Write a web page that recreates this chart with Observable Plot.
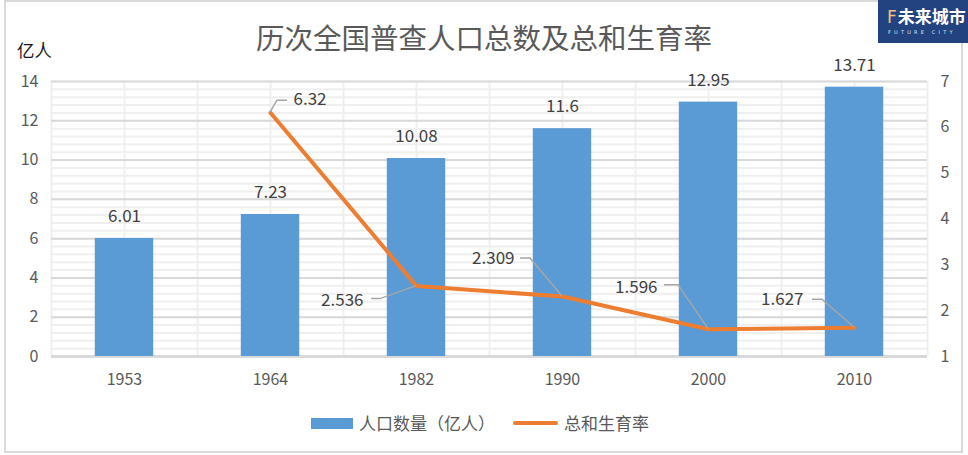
<!DOCTYPE html>
<html><head><meta charset="utf-8">
<script src="https://cdn.jsdelivr.net/npm/d3@7"></script>
<script src="https://cdn.jsdelivr.net/npm/@observablehq/plot@0.6"></script>
<style>
body{margin:0;background:#fff;font-family:"Noto Sans CJK SC","Noto Sans",sans-serif;}
#wrap{position:relative;width:968px;height:455px;overflow:hidden;background:#fff;}
#frame{position:absolute;left:4px;top:0px;width:959px;height:453px;border:2px solid #d9d9d9;box-sizing:border-box;}
#chart{position:absolute;left:0;top:0;}
#title{position:absolute;left:0;width:968px;top:18px;text-align:center;font-size:28.5px;color:#595959;line-height:38px;}
#unit{position:absolute;left:17px;top:37px;font-size:17.5px;color:#1a1a1a;line-height:26px;}
#logo{position:absolute;left:878px;top:0;width:90px;height:43px;background:#22437f;color:#fff;}
#logo .l1{position:absolute;left:9px;top:6px;font-size:17px;font-weight:bold;line-height:20px;letter-spacing:0px;}
#logo .l1 .f{color:#f3c27a;font-family:"DejaVu Sans";font-weight:normal;margin-right:1px;}
#logo .l2{position:absolute;left:10px;top:29px;font-size:5px;letter-spacing:3.2px;line-height:6px;color:#dfe6f2;font-family:"DejaVu Sans";}
#legend{position:absolute;top:411px;left:0;width:968px;height:24px;font-size:17px;color:#595959;}
.sw{position:absolute;}
.lt{position:absolute;top:0;line-height:24px;}
</style></head><body>
<div id="wrap">
  <div id="chart"></div>
  <div id="frame"></div>
  <div id="title">历次全国普查人口总数及总和生育率</div>
  <div id="unit">亿人</div>
  <div id="logo"><div class="l1"><span class="f">F</span>未来城市</div><div class="l2">FUTURE CITY</div></div>
  <div id="legend">
    <div class="sw" style="left:311px;top:7px;width:42px;height:11px;background:#5b9bd5"></div>
    <div class="lt" style="left:359px">人口数量（亿人）</div>
    <div class="sw" style="left:513px;top:10px;width:45px;height:4px;border-radius:2px;background:#ed7d31"></div>
    <div class="lt" style="left:564px">总和生育率</div>
  </div>
</div>
<script>
// ---- data ----
const years = ["1953", "1964", "1982", "1990", "2000", "2010"];
const population = [6.01, 7.23, 10.08, 11.6, 12.95, 13.71];
const populationLabels = ["6.01", "7.23", "10.08", "11.6", "12.95", "13.71"];
const tfrYears = ["1964", "1982", "1990", "2000", "2010"];
const tfr = [6.32, 2.536, 2.309, 1.596, 1.627];
const tfrLabels = ["6.32", "2.536", "2.309", "1.596", "1.627"];
const leftTicks = [0, 2, 4, 6, 8, 10, 12, 14];
const rightTicks = [1, 2, 3, 4, 5, 6, 7];

// ---- label styling (pixel offsets for the data labels and leader lines) ----
const tfrLabelStyle = [
  {dx: 23, dy: -13, anchor: "start", leader: [[0,0],[7,-12],[17,-12]]},
  {dx: -53, dy: 14, anchor: "end", leader: [[-45,13],[-36,13],[0,0]]},
  {dx: -48, dy: -38, anchor: "end", leader: [[-42,-38],[-32,-38],[0,0]]},
  {dx: -51, dy: -42, anchor: "end", leader: [[-44,-44],[-30,-44],[0,0]]},
  {dx: -51, dy: -28, anchor: "end", leader: [[-42,-28],[-32,-28],[0,0]]}
];

const popData = years.map((y, i) => ({i, year: y, v: population[i], label: populationLabels[i]}));
const tfrData = tfrYears.map((y, k) => ({i: years.indexOf(y), year: y, v: tfr[k], label: tfrLabels[k]}));
const yMax = 14;
const toLeft = r => (r - 1) * yMax / 6;   // right axis (1..7) mapped onto left axis (0..14)
const fromLeft = v => v * 6 / yMax + 1;

const minorY = d3.range(0, yMax + 0.001, 0.4);
const gridX = d3.range(-0.5, years.length - 0.5 + 0.001, 0.5);
const font = '"Noto Sans CJK SC","Noto Sans",sans-serif';

const plot = Plot.plot({
  width: 968,
  height: 455,
  marginLeft: 51,
  marginRight: 41,
  marginTop: 81,
  marginBottom: 99,
  style: {fontFamily: font, background: "transparent", overflow: "visible"},
  x: {type: "linear", domain: [-0.5, years.length - 0.5]},
  y: {domain: [0, yMax]},
  marks: [
    Plot.ruleY(minorY, {stroke: "#efefef", strokeWidth: 2}),
    Plot.ruleX(gridX, {stroke: "#efefef", strokeWidth: 2}),
    Plot.ruleY(leftTicks.filter(d => d > 0), {stroke: "#d9d9d9", strokeWidth: 2}),
    Plot.ruleY([0], {stroke: "#d9d9d9", strokeWidth: 3}),
    Plot.rectY(popData, {x1: d => d.i - 0.2, x2: d => d.i + 0.2, y: "v", fill: "#5b9bd5"}),
    Plot.text(popData, {x: "i", y: "v", text: "label", dy: -22, fontSize: 17, fill: "#404040"}),
    Plot.line(tfrData, {x: "i", y: d => toLeft(d.v), stroke: "#ed7d31", strokeWidth: 4, strokeLinejoin: "round"}),
    ...tfrData.map((d, k) => Plot.text([d], {
      x: "i", y: dd => toLeft(dd.v), text: "label",
      dx: tfrLabelStyle[k].dx, dy: tfrLabelStyle[k].dy,
      textAnchor: tfrLabelStyle[k].anchor, fontSize: 17, fill: "#404040"
    })),
    Plot.axisY(leftTicks, {anchor: "left", tickSize: 0, tickPadding: 13, fontSize: 16, color: "#595959", label: null}),
    Plot.axisY(rightTicks.map(toLeft), {anchor: "right", tickSize: 0, tickPadding: 13, fontSize: 16, color: "#595959", label: null, tickFormat: d => String(Math.round(fromLeft(d)))}),
    Plot.axisX(d3.range(years.length), {anchor: "bottom", tickSize: 0, tickPadding: 17, fontSize: 16, color: "#595959", label: null, tickFormat: i => years[i]})
  ]
});
document.getElementById("chart").appendChild(plot);

// leader lines for the fertility labels, placed through the plot's own scales
const sx = plot.scale("x"), sy = plot.scale("y");
const svg = d3.select(plot);
tfrData.forEach((d, k) => {
  const px = sx.apply(d.i), py = sy.apply(toLeft(d.v));
  const pts = tfrLabelStyle[k].leader.map(([a, b]) => [px + a, py + b]);
  svg.append("path")
    .attr("d", d3.line()(pts))
    .attr("fill", "none")
    .attr("stroke", "#a6a6a6")
    .attr("stroke-width", 1.5);
});
</script>
</body></html>
